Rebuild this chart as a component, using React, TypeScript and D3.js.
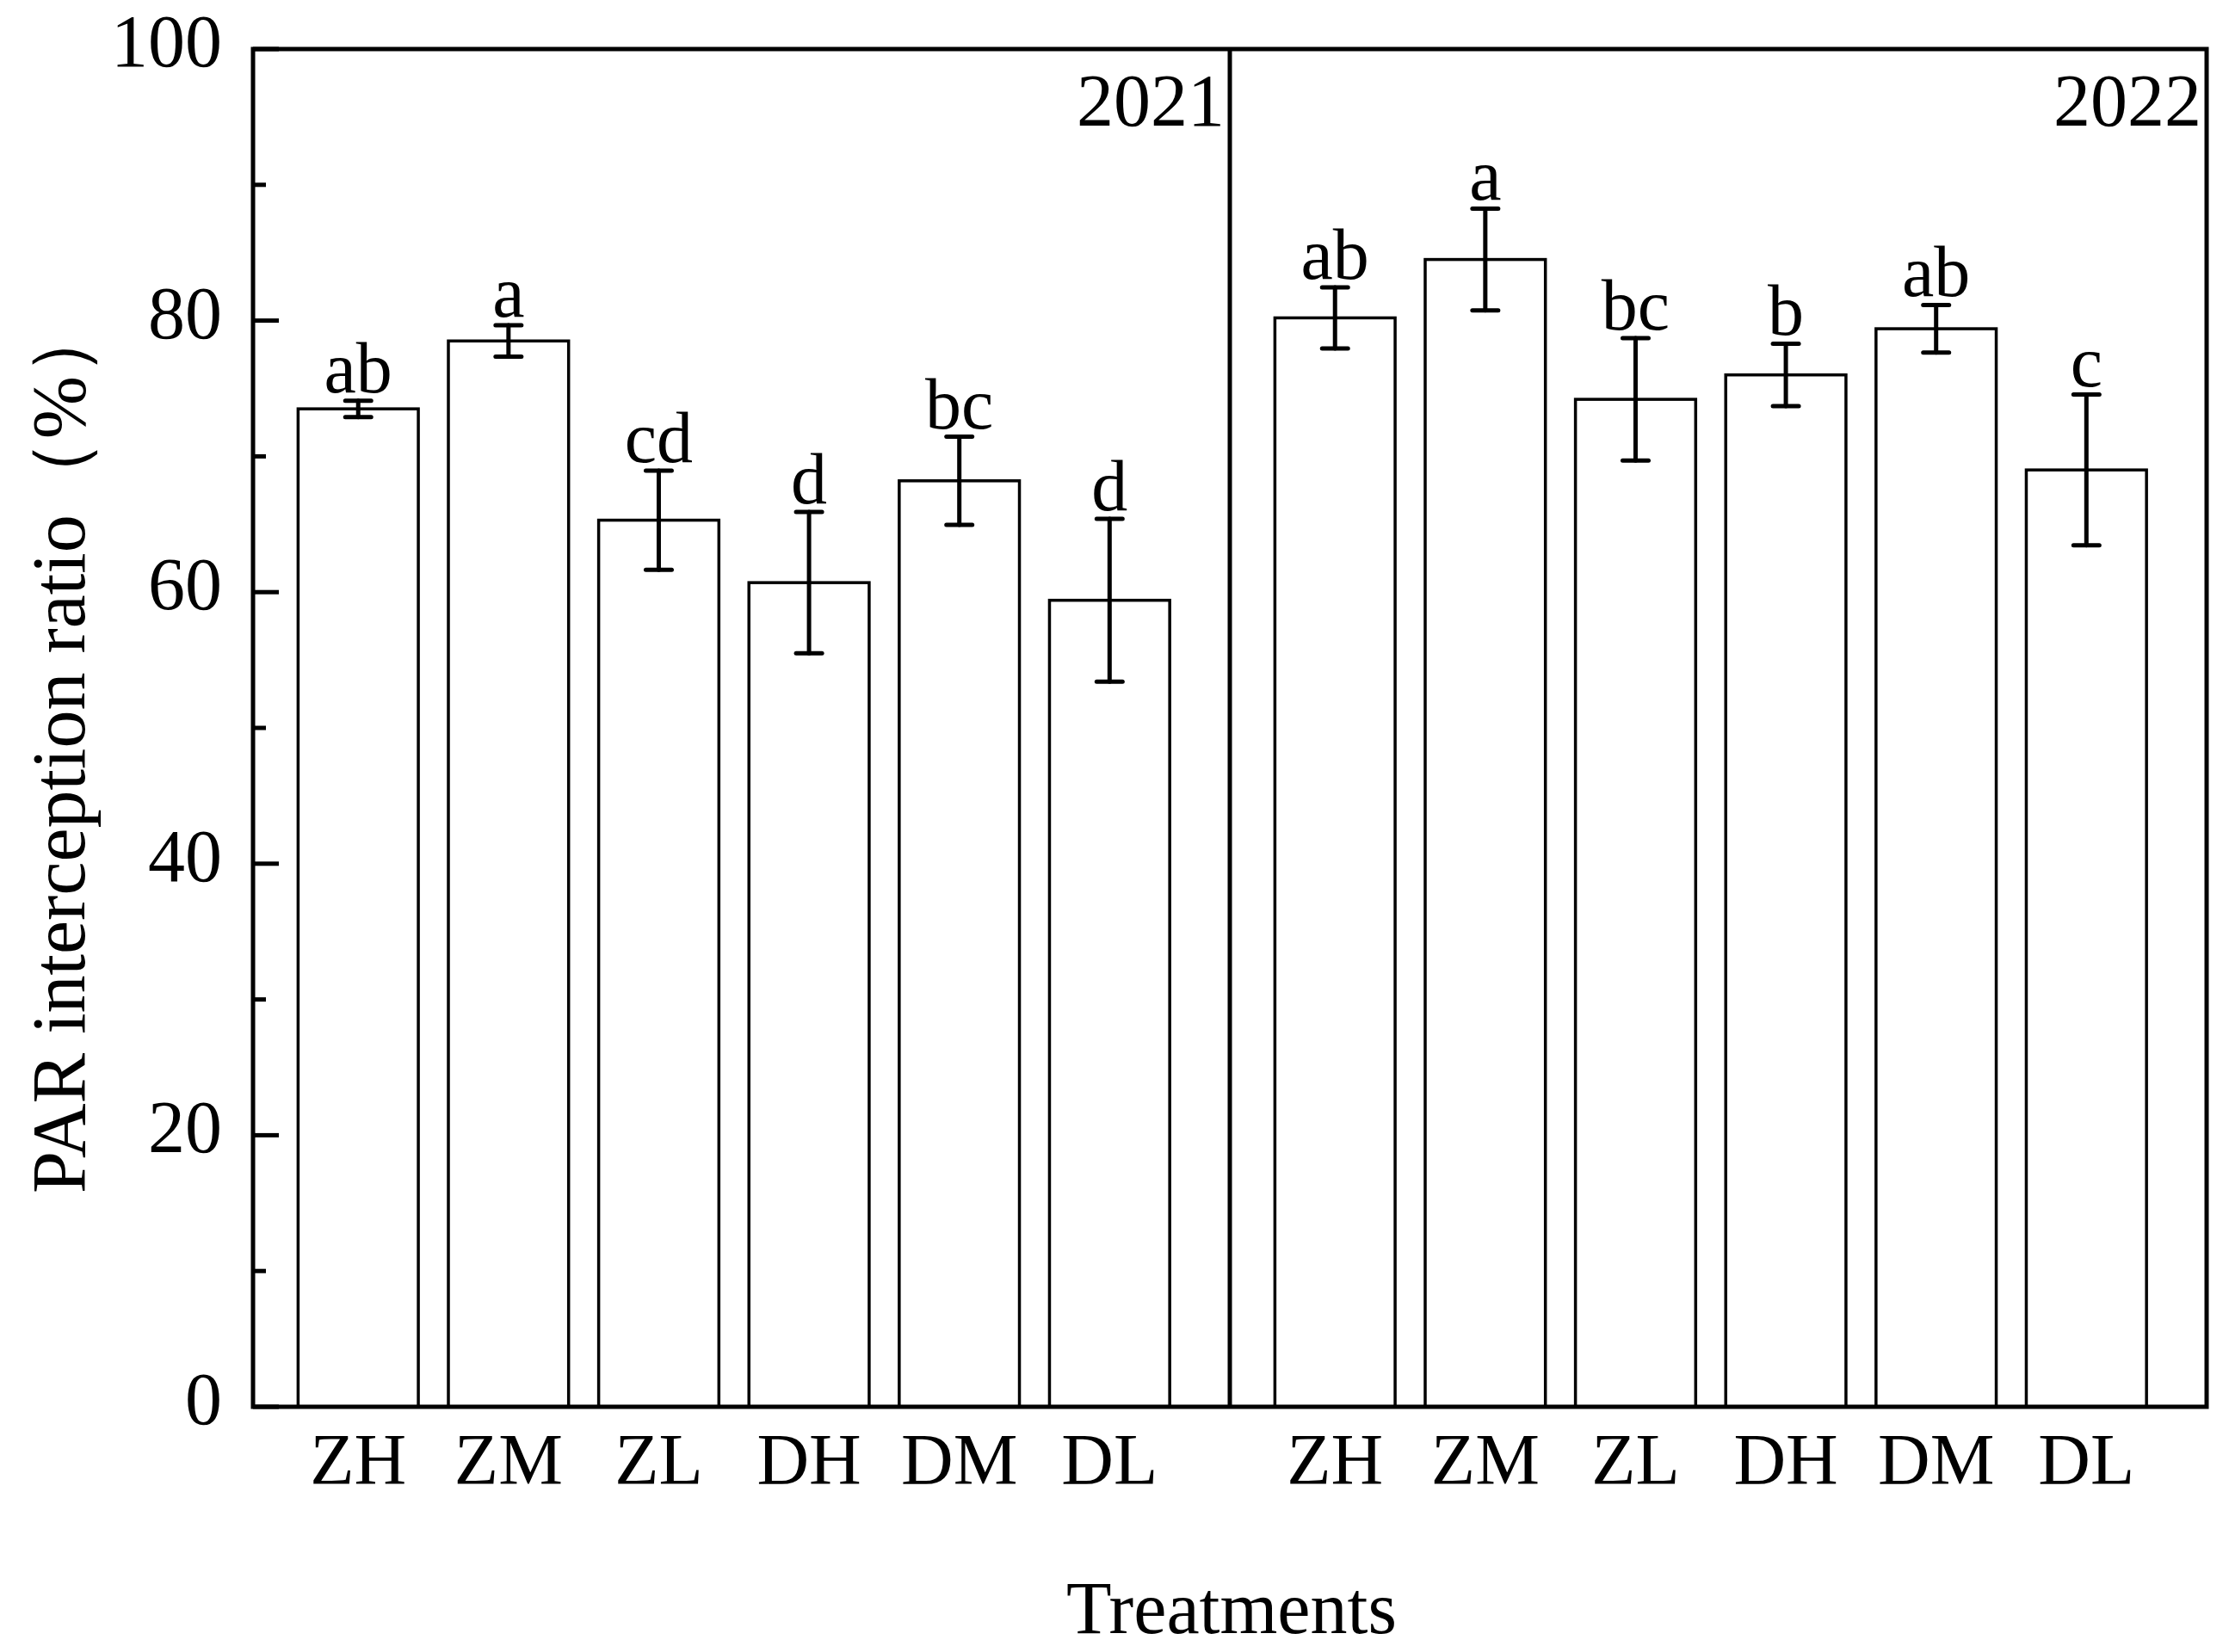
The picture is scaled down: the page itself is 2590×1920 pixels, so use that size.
import * as d3 from "d3";

const categories = ["ZH", "ZM", "ZL", "DH", "DM", "DL"];
const years = ["2021", "2022"];
const values2021 = [73.5, 78.5, 65.3, 60.7, 68.2, 59.4];
const errors2021 = [0.6, 1.15, 3.65, 5.2, 3.25, 6.0];
const letters2021 = ["ab", "a", "cd", "d", "bc", "d"];
const values2022 = [80.2, 84.5, 74.2, 76.0, 79.4, 69.0];
const errors2022 = [2.25, 3.75, 4.5, 2.3, 1.75, 5.55];
const letters2022 = ["ab", "a", "bc", "b", "ab", "c"];
const yTicks = [0, 20, 40, 60, 80, 100];

const width = 2590;
const height = 1920;
const left = 294;
const right = 2564;
const top = 57;
const bottom = 1635;
const font = "'Liberation Serif', 'Times New Roman', serif";

export default function App() {
  const yScale = d3.scaleLinear().domain([0, 100]).range([bottom, top]);
  const mid = (left + right) / 2;
  const panels = [
    { year: years[0], values: values2021, errors: errors2021, letters: letters2021, x0: left, x1: mid },
    { year: years[1], values: values2022, errors: errors2022, letters: letters2022, x0: mid, x1: right },
  ];
  const minorTicks = d3.range(10, 100, 20);

  return (
    <svg
      width={width}
      height={height}
      style={{ position: "absolute", left: 0, top: 0, background: "#fff" }}
      fontFamily={font}
    >
      <rect width={width} height={height} fill="#fff" />
      {panels.map((p) => {
        const x = d3.scaleLinear().domain([0.3, 6.8]).range([p.x0, p.x1]);
        const bw = x(0.8) - x(0);
        return (
          <g key={p.year}>
            {p.values.map((v, i) => {
              const cx = x(i + 1);
              const hi = yScale(v + p.errors[i]);
              const lo = yScale(v - p.errors[i]);
              return (
                <g key={i}>
                  <rect
                    x={cx - bw / 2}
                    y={yScale(v)}
                    width={bw}
                    height={yScale(0) - yScale(v)}
                    fill="#fff"
                    stroke="#000"
                    strokeWidth={3.5}
                  />
                  <g stroke="#000" strokeWidth={5} strokeLinecap="round">
                    <line x1={cx} x2={cx} y1={hi} y2={lo} />
                    <line x1={cx - 15} x2={cx + 15} y1={hi} y2={hi} />
                    <line x1={cx - 15} x2={cx + 15} y1={lo} y2={lo} />
                  </g>
                  <text x={cx} y={hi - 10} textAnchor="middle" fontSize={84}>
                    {p.letters[i]}
                  </text>
                  <text x={cx} y={1725} textAnchor="middle" fontSize={84}>
                    {categories[i]}
                  </text>
                </g>
              );
            })}
            <text x={p.x1 - 6} y={146} textAnchor="end" fontSize={86}>
              {p.year}
            </text>
          </g>
        );
      })}

      {/* frame and divider */}
      <rect x={left} y={top} width={right - left} height={bottom - top} fill="none" stroke="#000" strokeWidth={5} />
      <line x1={mid} x2={mid} y1={top} y2={bottom} stroke="#000" strokeWidth={5} />

      {/* y axis ticks */}
      {yTicks.map((t) => (
        <g key={t}>
          <line x1={left} x2={left + 30} y1={yScale(t)} y2={yScale(t)} stroke="#000" strokeWidth={5} />
          <text x={258} y={yScale(t) + 20} textAnchor="end" fontSize={86}>
            {t}
          </text>
        </g>
      ))}
      {minorTicks.map((t) => (
        <line key={t} x1={left} x2={left + 15} y1={yScale(t)} y2={yScale(t)} stroke="#000" strokeWidth={5} />
      ))}

      <text
        transform={`translate(98, ${868}) rotate(-90)`}
        textAnchor="middle"
        fontSize={88}
      >
        PAR interception ratio（%）
      </text>
      <text x={1431} y={1898} textAnchor="middle" fontSize={86}>
        Treatments
      </text>
    </svg>
  );
}
